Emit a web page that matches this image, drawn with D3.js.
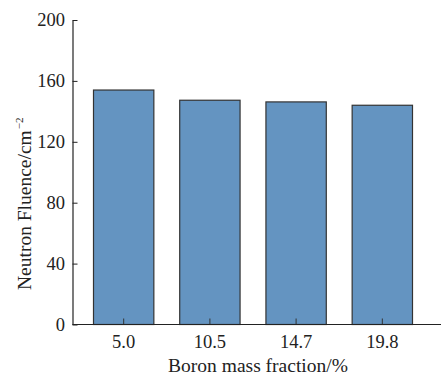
<!DOCTYPE html>
<html>
<head>
<meta charset="utf-8">
<script src="https://cdn.jsdelivr.net/npm/d3@7"></script>
<style>
  html, body { margin: 0; padding: 0; background: #fff; }
  svg { display: block; }
  svg text { font-family: "Liberation Serif", "Times New Roman", serif; fill: #222; }
</style>
</head>
<body>
<svg id="chart" width="441" height="375"></svg>
<script>
const categories = ["5.0", "10.5", "14.7", "19.8"];
const values = [154, 147.3, 146.2, 144];
const yTicks = [0, 40, 80, 120, 160, 200];

const svg = d3.select("#chart");
const axisX = 72.5, yTop = 20, yBottom = 324.5, xRight = 441;
const FS = 18.5;

const x = d3.scaleBand().domain(categories).range([93.5, 412.5]).paddingInner(0.3).paddingOuter(0);
const y = d3.scaleLinear().domain([0, 200]).range([yBottom, yTop]);

// bars
svg.append("g").selectAll("rect").data(values).join("rect")
  .attr("x", (d, i) => x(categories[i]))
  .attr("y", d => y(d))
  .attr("width", x.bandwidth())
  .attr("height", d => y(0) - y(d))
  .attr("fill", "#6494c1")
  .attr("stroke", "#333")
  .attr("stroke-width", 1.2);

// y axis
const yAxis = d3.axisLeft(y).tickValues(yTicks).tickSizeInner(-5).tickSizeOuter(0).tickPadding(7.5);
const gy = svg.append("g").attr("transform", `translate(${axisX},0)`).call(yAxis)
  .attr("font-family", null);
gy.select(".domain").attr("stroke", "#222").attr("stroke-width", 1.2);
gy.selectAll(".tick line").attr("stroke", "#222").attr("stroke-width", 1);
gy.selectAll(".tick text").attr("font-size", FS).attr("fill", "#222");

// x axis
const xAxis = d3.axisBottom(x).tickSizeInner(-6).tickSizeOuter(0).tickPadding(10.5);
const gx = svg.append("g").attr("transform", `translate(0,${yBottom})`).call(xAxis)
  .attr("font-family", null);
gx.select(".domain").remove();
gx.append("line").attr("x1", axisX).attr("x2", xRight).attr("y1", 0).attr("y2", 0)
  .attr("stroke", "#222").attr("stroke-width", 1.2);
gx.selectAll(".tick line").attr("stroke", "#333").attr("stroke-width", 1);
gx.selectAll(".tick text").attr("font-size", FS).attr("fill", "#222");

// axis titles
svg.append("text").attr("x", 258).attr("y", 371.5).attr("text-anchor", "middle")
  .attr("font-size", 19.5).text("Boron mass fraction/%");

const yl = svg.append("text").attr("transform", "translate(31,290) rotate(-90)")
  .attr("text-anchor", "start").attr("font-size", 19.5);
yl.append("tspan").text("Neutron Fluence/cm");
yl.append("tspan").attr("dy", -8).attr("dx", 1).attr("font-size", 11).text("−2");
</script>
</body>
</html>
